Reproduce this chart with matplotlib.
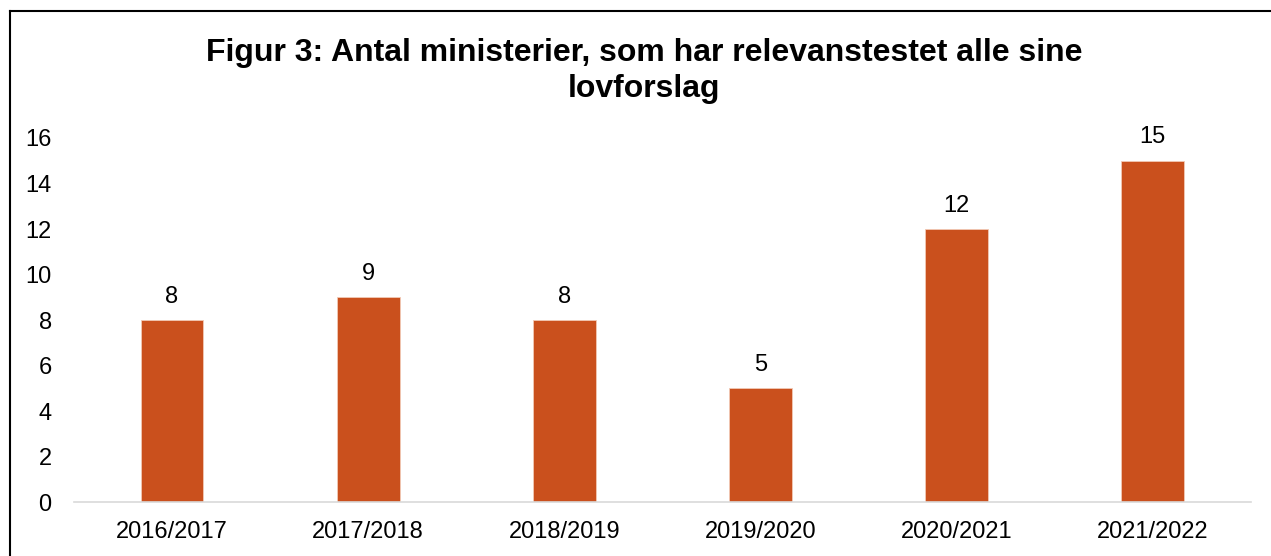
import matplotlib.pyplot as plt
from matplotlib.lines import Line2D

plt.rcParams['font.family'] = ['Liberation Sans', 'DejaVu Sans']

years = ["2016/2017", "2017/2018", "2018/2019", "2019/2020", "2020/2021", "2021/2022"]
counts = [8, 9, 8, 5, 12, 15]

fig = plt.figure(figsize=(12.71, 5.56), dpi=100)
ax = fig.add_axes([0.0582, 0.0971, 0.9258, 0.6547])

x = range(len(years))
bars = ax.bar(x, counts, width=0.32, color="#CA501D", edgecolor="#F2C9B5", linewidth=0.6)

for b, v in zip(bars, counts):
    ax.annotate(str(v), (b.get_x() + b.get_width() / 2, v), xytext=(0, 9),
                textcoords="offset points", ha="center", va="bottom", fontsize=17)

ax.set_xlim(-0.5, len(years) - 0.5)
ax.set_ylim(0, 16)
ax.set_yticks(range(0, 17, 2))
ax.set_xticks(list(x))
ax.set_xticklabels(years)
ax.tick_params(axis="both", length=0, labelsize=17)
ax.tick_params(axis="x", pad=14)
ax.tick_params(axis="y", pad=16)
for s in ["top", "right", "left"]:
    ax.spines[s].set_visible(False)
ax.spines["bottom"].set_color("#D9D9D9")
ax.spines["bottom"].set_linewidth(1.2)

fig.text(0.507, 0.872, "Figur 3: Antal ministerier, som har relevanstestet alle sine\nlovforslag",
         ha="center", va="center", fontsize=23, fontweight="bold", linespacing=1.25)

# chart border (left and top edges visible)
fig.add_artist(Line2D([0.0075, 0.0075], [0, 0.981], color="black", linewidth=1.5))
fig.add_artist(Line2D([0.0075, 1.0], [0.981, 0.981], color="black", linewidth=1.5))

fig.savefig("out.png", dpi=100)
